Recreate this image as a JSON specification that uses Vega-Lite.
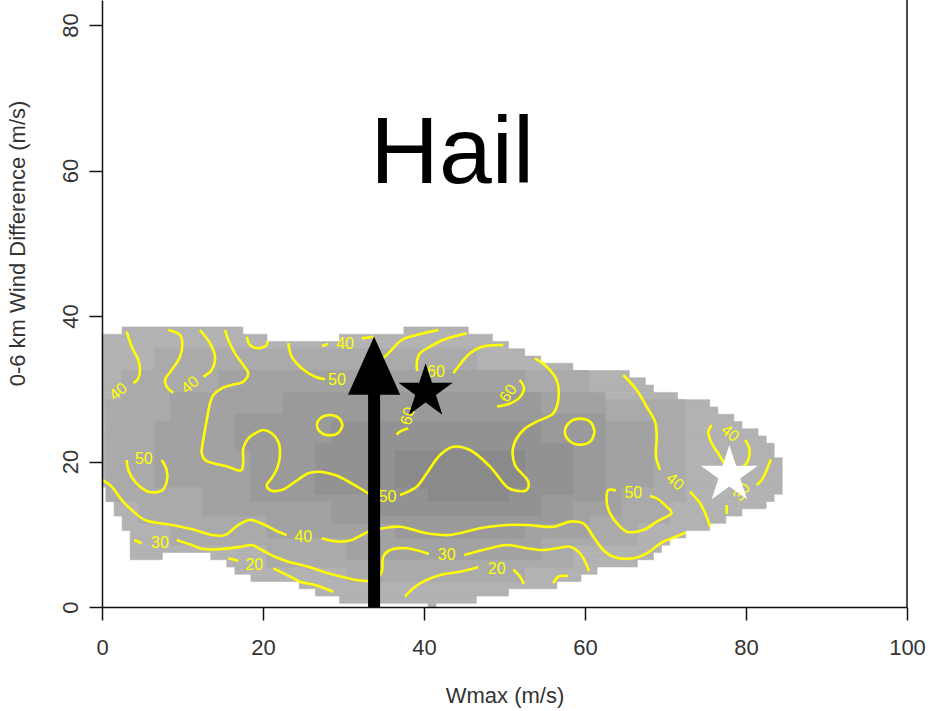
{
  "$schema": "https://vega.github.io/schema/vega-lite/v6.json",
  "width": 805,
  "height": 607,
  "autosize": {"type": "none"},
  "padding": {"left": 102, "top": 0, "right": 23, "bottom": 104},
  "background": "white",
  "config": {"view": {"stroke": null}, "font": "Liberation Sans"},
  "datasets": {
    "cells": [
      {"g":1,"x":2.5,"x2":17.5,"y":37.5,"y2":38.5},
      {"g":1,"x":37.5,"x2":45.5,"y":37.5,"y2":38.5},
      {"g":1,"x":0,"x2":20.5,"y":36.5,"y2":37.5},
      {"g":1,"x":29.5,"x2":48.5,"y":36.5,"y2":37.5},
      {"g":1,"x":0,"x2":50.5,"y":35.5,"y2":36.5},
      {"g":1,"x":0,"x2":52.5,"y":34.5,"y2":35.5},
      {"g":1,"x":0,"x2":54.5,"y":33.5,"y2":34.5},
      {"g":1,"x":0,"x2":58.5,"y":32.5,"y2":33.5},
      {"g":1,"x":0,"x2":65.5,"y":31.5,"y2":32.5},
      {"g":1,"x":0,"x2":67.5,"y":30.5,"y2":31.5},
      {"g":1,"x":0,"x2":68.5,"y":29.5,"y2":30.5},
      {"g":1,"x":0,"x2":71.5,"y":28.5,"y2":29.5},
      {"g":1,"x":0,"x2":75.5,"y":27.5,"y2":28.5},
      {"g":1,"x":0,"x2":76.5,"y":26.5,"y2":27.5},
      {"g":1,"x":0,"x2":78.5,"y":25.5,"y2":26.5},
      {"g":1,"x":0,"x2":79.5,"y":24.5,"y2":25.5},
      {"g":1,"x":0,"x2":81.5,"y":23.5,"y2":24.5},
      {"g":1,"x":0,"x2":82.5,"y":22.5,"y2":23.5},
      {"g":1,"x":0,"x2":83.5,"y":20.5,"y2":22.5},
      {"g":1,"x":0,"x2":84.5,"y":16.5,"y2":20.5},
      {"g":1,"x":0.5,"x2":84.5,"y":15.5,"y2":16.5},
      {"g":1,"x":0.5,"x2":83.5,"y":14.5,"y2":15.5},
      {"g":1,"x":1.5,"x2":82.5,"y":13.5,"y2":14.5},
      {"g":1,"x":1.5,"x2":79.5,"y":12.5,"y2":13.5},
      {"g":1,"x":2.5,"x2":77.5,"y":11.5,"y2":12.5},
      {"g":1,"x":2.5,"x2":75.5,"y":10.5,"y2":11.5},
      {"g":1,"x":3.5,"x2":72.5,"y":9.5,"y2":10.5},
      {"g":1,"x":3.5,"x2":70.5,"y":8.5,"y2":9.5},
      {"g":1,"x":3.5,"x2":69.5,"y":7.5,"y2":8.5},
      {"g":1,"x":3.5,"x2":7.5,"y":6.5,"y2":7.5},
      {"g":1,"x":13.5,"x2":68.5,"y":6.5,"y2":7.5},
      {"g":1,"x":15.5,"x2":66.5,"y":5.5,"y2":6.5},
      {"g":1,"x":16.5,"x2":61.5,"y":4.5,"y2":5.5},
      {"g":1,"x":18.5,"x2":59.5,"y":3.5,"y2":4.5},
      {"g":1,"x":24.5,"x2":56.5,"y":2.5,"y2":3.5},
      {"g":1,"x":26.5,"x2":50.5,"y":1.5,"y2":2.5},
      {"g":1,"x":29.5,"x2":46.5,"y":0.5,"y2":1.5},
      {"g":1,"x":40.5,"x2":41.5,"y":0,"y2":0.5},

      {"g":2,"x":6.5,"x2":46.5,"y":32.5,"y2":35.5},
      {"g":2,"x":2.5,"x2":60.5,"y":28.5,"y2":32.5},
      {"g":2,"x":0.5,"x2":72.5,"y":14.5,"y2":28.5},
      {"g":2,"x":4.5,"x2":70.5,"y":11.5,"y2":14.5},
      {"g":2,"x":8.5,"x2":66.5,"y":8.5,"y2":11.5},
      {"g":2,"x":20.5,"x2":58.5,"y":5.5,"y2":8.5},
      {"g":2,"x":30.5,"x2":52.5,"y":3.5,"y2":5.5},

      {"g":3,"x":14.5,"x2":52.5,"y":29.5,"y2":32.5},
      {"g":3,"x":8.5,"x2":62.5,"y":25.5,"y2":29.5},
      {"g":3,"x":6.5,"x2":68.5,"y":16.5,"y2":25.5},
      {"g":3,"x":12.5,"x2":64.5,"y":12.5,"y2":16.5},
      {"g":3,"x":20.5,"x2":60.5,"y":9.5,"y2":12.5},
      {"g":3,"x":30.5,"x2":54.5,"y":6.5,"y2":9.5},

      {"g":4,"x":22.5,"x2":54.5,"y":26.5,"y2":29.5},
      {"g":4,"x":16.5,"x2":62.5,"y":21.5,"y2":26.5},
      {"g":4,"x":18.5,"x2":62.5,"y":14.5,"y2":21.5},
      {"g":4,"x":28.5,"x2":58.5,"y":11.5,"y2":14.5},
      {"g":4,"x":36.5,"x2":52.5,"y":9.5,"y2":11.5},

      {"g":5,"x":28.5,"x2":54.5,"y":22.5,"y2":25.5},
      {"g":5,"x":26.5,"x2":58.5,"y":15.5,"y2":22.5},
      {"g":5,"x":34.5,"x2":54.5,"y":12.5,"y2":15.5},

      {"g":6,"x":36.5,"x2":52.5,"y":16.5,"y2":21.5},
      {"g":6,"x":40.5,"x2":50.5,"y":14.5,"y2":16.5}
    ],
    "contours": [
      {"s":"A","o":1,"x":3.07,"y":37.84},{"s":"A","o":2,"x":3.69,"y":35.78},{"s":"A","o":3,"x":4.51,"y":33.95},{"s":"A","o":4,"x":4.72,"y":32.58},{"s":"A","o":5,"x":4.51,"y":31.44},{"s":"A","o":6,"x":3.89,"y":30.75},

      {"s":"B1","o":1,"x":8.24,"y":38.08},{"s":"B1","o":2,"x":9.69,"y":37.39},{"s":"B1","o":3,"x":9.98,"y":36.25},{"s":"B1","o":4,"x":9.69,"y":34.41},{"s":"B1","o":5,"x":8.66,"y":32.58},{"s":"B1","o":6,"x":7.83,"y":31.2},{"s":"B1","o":7,"x":8.04,"y":30.28},{"s":"B1","o":8,"x":8.86,"y":29.46},
      {"s":"B2","o":1,"x":12.58,"y":31.66},{"s":"B2","o":2,"x":13.63,"y":32.58},{"s":"B2","o":3,"x":14.04,"y":34.41},{"s":"B2","o":4,"x":13.42,"y":36.25},{"s":"B2","o":5,"x":12.17,"y":38.08},

      {"s":"T","o":1,"x":17.98,"y":37.16},{"s":"T","o":2,"x":18.39,"y":36.01},{"s":"T","o":3,"x":19.42,"y":35.56},{"s":"T","o":4,"x":20.46,"y":36.01},{"s":"T","o":5,"x":20.53,"y":36.56},

      {"s":"C1","o":1,"x":15.28,"y":38.08},{"s":"C1","o":2,"x":15.69,"y":36.7},{"s":"C1","o":3,"x":16.52,"y":34.87},{"s":"C1","o":4,"x":17.55,"y":33.26},{"s":"C1","o":5,"x":18.17,"y":32.12},{"s":"C1","o":6,"x":17.55,"y":30.97},{"s":"C1","o":7,"x":16.11,"y":30.52},{"s":"C1","o":8,"x":14.87,"y":30.06},{"s":"C1","o":9,"x":13.83,"y":29.14},{"s":"C1","o":10,"x":13.42,"y":28.0},{"s":"C1","o":11,"x":13.01,"y":25.7},{"s":"C1","o":12,"x":12.58,"y":22.96},{"s":"C1","o":13,"x":12.39,"y":21.13},{"s":"C1","o":14,"x":12.8,"y":20.21},{"s":"C1","o":15,"x":13.83,"y":19.75},{"s":"C1","o":16,"x":15.69,"y":19.29},{"s":"C1","o":17,"x":16.73,"y":18.83},{"s":"C1","o":18,"x":17.35,"y":18.83},{"s":"C1","o":19,"x":17.55,"y":20.21},{"s":"C1","o":20,"x":17.55,"y":21.81},{"s":"C1","o":21,"x":18.17,"y":23.19},{"s":"C1","o":22,"x":19.01,"y":23.88},{"s":"C1","o":23,"x":20.04,"y":24.33},{"s":"C1","o":24,"x":21.08,"y":23.88},{"s":"C1","o":25,"x":21.9,"y":22.72},{"s":"C1","o":26,"x":22.11,"y":21.13},{"s":"C1","o":27,"x":21.83,"y":19.29},{"s":"C1","o":28,"x":21.08,"y":17.69},{"s":"C1","o":29,"x":20.46,"y":16.77},{"s":"C1","o":30,"x":20.87,"y":16.08},{"s":"C1","o":31,"x":22.32,"y":16.08},{"s":"C1","o":32,"x":23.98,"y":17.22},{"s":"C1","o":33,"x":25.63,"y":18.38},{"s":"C1","o":34,"x":26.87,"y":18.6},{"s":"C1","o":35,"x":28.94,"y":18.14},{"s":"C1","o":36,"x":31.02,"y":17.0},{"s":"C1","o":37,"x":33.08,"y":15.63},{"s":"C1","o":38,"x":33.6,"y":15.3},
      {"s":"C2","o":1,"x":37.02,"y":15.4},{"s":"C2","o":2,"x":39.09,"y":16.54},{"s":"C2","o":3,"x":40.34,"y":18.38},{"s":"C2","o":4,"x":41.99,"y":20.89},{"s":"C2","o":5,"x":43.64,"y":22.03},{"s":"C2","o":6,"x":45.71,"y":21.58},{"s":"C2","o":7,"x":48.2,"y":19.29},{"s":"C2","o":8,"x":50.27,"y":16.54},{"s":"C2","o":9,"x":51.09,"y":16.08},{"s":"C2","o":10,"x":52.76,"y":16.08},{"s":"C2","o":11,"x":52.96,"y":17.22},{"s":"C2","o":12,"x":51.3,"y":19.52},{"s":"C2","o":13,"x":51.09,"y":22.03},{"s":"C2","o":14,"x":52.34,"y":24.33},{"s":"C2","o":15,"x":54.0,"y":25.47},{"s":"C2","o":16,"x":56.06,"y":26.63},{"s":"C2","o":17,"x":56.68,"y":28.45},{"s":"C2","o":18,"x":56.48,"y":31.2},{"s":"C2","o":19,"x":55.24,"y":33.03},{"s":"C2","o":20,"x":53.79,"y":34.19},

      {"s":"G","o":1,"x":3.07,"y":20.21},{"s":"G","o":2,"x":3.27,"y":18.83},{"s":"G","o":3,"x":4.1,"y":17.22},{"s":"G","o":4,"x":5.75,"y":15.85},{"s":"G","o":5,"x":7.42,"y":15.99},{"s":"G","o":6,"x":8.04,"y":17.22},{"s":"G","o":7,"x":8.04,"y":18.83},{"s":"G","o":8,"x":7.42,"y":20.21},

      {"s":"H","o":1,"x":29.9,"y":25.0},{"s":"H","o":2,"x":29.4,"y":26.0},{"s":"H","o":3,"x":28.3,"y":26.4},{"s":"H","o":4,"x":27.2,"y":26.0},{"s":"H","o":5,"x":26.7,"y":25.0},{"s":"H","o":6,"x":27.2,"y":24.0},{"s":"H","o":7,"x":28.3,"y":23.6},{"s":"H","o":8,"x":29.4,"y":24.0},{"s":"H","o":9,"x":29.9,"y":25.0},

      {"s":"I","o":1,"x":61.2,"y":24.1},{"s":"I","o":2,"x":60.7,"y":25.4},{"s":"I","o":3,"x":59.4,"y":25.9},{"s":"I","o":4,"x":58.1,"y":25.4},{"s":"I","o":5,"x":57.5,"y":24.1},{"s":"I","o":6,"x":58.1,"y":22.8},{"s":"I","o":7,"x":59.4,"y":22.3},{"s":"I","o":8,"x":60.7,"y":22.8},{"s":"I","o":9,"x":61.2,"y":24.1},

      {"s":"D1","o":1,"x":0.04,"y":17.46},{"s":"D1","o":2,"x":1.2,"y":16.54},{"s":"D1","o":3,"x":2.45,"y":14.71},{"s":"D1","o":4,"x":3.69,"y":13.33},{"s":"D1","o":5,"x":5.34,"y":11.96},{"s":"D1","o":6,"x":8.66,"y":11.27},{"s":"D1","o":7,"x":11.55,"y":10.58},{"s":"D1","o":8,"x":13.63,"y":9.9},{"s":"D1","o":9,"x":15.28,"y":9.9},{"s":"D1","o":10,"x":16.93,"y":11.27},{"s":"D1","o":11,"x":18.39,"y":11.96},{"s":"D1","o":12,"x":20.25,"y":11.27},{"s":"D1","o":13,"x":21.9,"y":10.35},{"s":"D1","o":14,"x":22.94,"y":9.9},
      {"s":"D2","o":1,"x":27.29,"y":9.44},{"s":"D2","o":2,"x":29.35,"y":8.98},{"s":"D2","o":3,"x":31.02,"y":9.21},{"s":"D2","o":4,"x":32.26,"y":9.9},{"s":"D2","o":5,"x":33.08,"y":10.35},{"s":"D2","o":6,"x":34.94,"y":10.82},{"s":"D2","o":7,"x":37.02,"y":11.04},{"s":"D2","o":8,"x":40.34,"y":10.13},{"s":"D2","o":9,"x":43.23,"y":9.9},{"s":"D2","o":10,"x":46.96,"y":10.82},{"s":"D2","o":11,"x":50.27,"y":11.27},{"s":"D2","o":12,"x":52.76,"y":11.27},{"s":"D2","o":13,"x":56.06,"y":11.04},{"s":"D2","o":14,"x":58.14,"y":11.73},{"s":"D2","o":15,"x":59.79,"y":11.5},{"s":"D2","o":16,"x":61.03,"y":9.66},{"s":"D2","o":17,"x":62.27,"y":7.84},{"s":"D2","o":18,"x":63.52,"y":6.91},{"s":"D2","o":19,"x":66.0,"y":6.69},{"s":"D2","o":20,"x":67.66,"y":7.38},{"s":"D2","o":21,"x":69.73,"y":8.98},{"s":"D2","o":22,"x":71.8,"y":9.9},{"s":"D2","o":23,"x":72.5,"y":10.25},

      {"s":"E1","o":1,"x":4.01,"y":9.21},{"s":"E1","o":2,"x":4.93,"y":8.76},
      {"s":"E2","o":1,"x":9.28,"y":9.21},{"s":"E2","o":2,"x":11.14,"y":8.52},{"s":"E2","o":3,"x":12.58,"y":7.97},{"s":"E2","o":4,"x":14.87,"y":7.97},{"s":"E2","o":5,"x":17.35,"y":8.29},{"s":"E2","o":6,"x":18.6,"y":8.52},{"s":"E2","o":7,"x":19.84,"y":7.84},{"s":"E2","o":8,"x":21.49,"y":6.91},{"s":"E2","o":9,"x":23.14,"y":6.23},{"s":"E2","o":10,"x":25.63,"y":5.54},{"s":"E2","o":11,"x":28.11,"y":4.63},{"s":"E2","o":12,"x":30.6,"y":3.95},{"s":"E2","o":13,"x":32.26,"y":3.62},{"s":"E2","o":14,"x":33.91,"y":3.71},{"s":"E2","o":15,"x":34.75,"y":4.85},{"s":"E2","o":16,"x":34.94,"y":6.91},{"s":"E2","o":17,"x":35.78,"y":7.84},{"s":"E2","o":18,"x":37.85,"y":8.07},{"s":"E2","o":19,"x":40.6,"y":7.3},
      {"s":"E3","o":1,"x":45.0,"y":7.15},{"s":"E3","o":2,"x":48.2,"y":8.07},{"s":"E3","o":3,"x":50.27,"y":8.52},{"s":"E3","o":4,"x":52.76,"y":8.07},{"s":"E3","o":5,"x":54.82,"y":7.84},{"s":"E3","o":6,"x":56.48,"y":8.07},{"s":"E3","o":7,"x":58.14,"y":8.29},{"s":"E3","o":8,"x":59.38,"y":7.38},{"s":"E3","o":9,"x":60.21,"y":5.77},{"s":"E3","o":10,"x":60.5,"y":4.95},

      {"s":"F1","o":1,"x":15.69,"y":6.69},{"s":"F1","o":2,"x":16.93,"y":6.36},
      {"s":"F2","o":1,"x":21.28,"y":5.32},{"s":"F2","o":2,"x":23.57,"y":4.08},{"s":"F2","o":3,"x":24.6,"y":3.48},{"s":"F2","o":4,"x":26.46,"y":3.02},{"s":"F2","o":5,"x":28.73,"y":2.1},
      {"s":"F3","o":1,"x":37.64,"y":1.42},{"s":"F3","o":2,"x":38.67,"y":2.57},{"s":"F3","o":3,"x":39.91,"y":3.48},{"s":"F3","o":4,"x":41.99,"y":4.4},{"s":"F3","o":5,"x":44.47,"y":4.85},{"s":"F3","o":6,"x":46.75,"y":5.46},
      {"s":"F4","o":1,"x":51.09,"y":5.18},{"s":"F4","o":2,"x":51.93,"y":4.16},{"s":"F4","o":3,"x":52.42,"y":3.16},
      {"s":"F5","o":1,"x":56.06,"y":3.26},{"s":"F5","o":2,"x":56.68,"y":4.16},{"s":"F5","o":3,"x":57.93,"y":4.26},

      {"s":"K1","o":1,"x":27.33,"y":35.88},{"s":"K1","o":2,"x":28.07,"y":36.15},
      {"s":"K2","o":1,"x":32.26,"y":36.93},{"s":"K2","o":2,"x":33.7,"y":37.15},
      {"s":"J1","o":1,"x":34.9,"y":34.2},{"s":"J1","o":2,"x":35.57,"y":34.87},{"s":"J1","o":3,"x":37.23,"y":36.7},{"s":"J1","o":4,"x":39.09,"y":37.39},{"s":"J1","o":5,"x":41.78,"y":38.08},

      {"s":"L1","o":1,"x":23.14,"y":36.29},{"s":"L1","o":2,"x":23.57,"y":34.41},{"s":"L1","o":3,"x":24.81,"y":32.81},{"s":"L1","o":4,"x":26.46,"y":31.66},{"s":"L1","o":5,"x":27.7,"y":31.3},
      {"s":"L2","o":1,"x":36.6,"y":23.7},{"s":"L2","o":2,"x":37.02,"y":24.1},{"s":"L2","o":3,"x":38.05,"y":24.56},

      {"s":"M1","o":1,"x":45.3,"y":37.62},{"s":"M1","o":2,"x":42.36,"y":36.7},{"s":"M1","o":3,"x":40.75,"y":35.78},{"s":"M1","o":4,"x":39.5,"y":34.87},{"s":"M1","o":5,"x":39.09,"y":33.5},{"s":"M1","o":6,"x":39.17,"y":32.44},
      {"s":"M2","o":1,"x":43.64,"y":32.12},{"s":"M2","o":2,"x":45.71,"y":34.87},{"s":"M2","o":3,"x":47.17,"y":35.78},{"s":"M2","o":4,"x":49.85,"y":36.01},

      {"s":"N","o":1,"x":51.89,"y":31.2},{"s":"N","o":2,"x":52.42,"y":30.1},{"s":"N","o":3,"x":51.93,"y":28.87},{"s":"N","o":4,"x":50.68,"y":27.97},{"s":"N","o":5,"x":49.07,"y":27.56},

      {"s":"O1","o":1,"x":64.76,"y":31.89},{"s":"O1","o":2,"x":66.42,"y":29.83},{"s":"O1","o":3,"x":67.66,"y":27.53},{"s":"O1","o":4,"x":68.7,"y":25.47},{"s":"O1","o":5,"x":68.91,"y":23.41},{"s":"O1","o":6,"x":68.82,"y":20.66},{"s":"O1","o":7,"x":69.32,"y":18.83},
      {"s":"O2","o":1,"x":73.04,"y":15.85},{"s":"O2","o":2,"x":74.29,"y":14.25},{"s":"O2","o":3,"x":75.12,"y":12.41},{"s":"O2","o":4,"x":75.53,"y":11.04},

      {"s":"P","o":1,"x":63.85,"y":16.01},{"s":"P","o":2,"x":62.89,"y":16.08},{"s":"P","o":3,"x":62.7,"y":14.47},{"s":"P","o":4,"x":63.11,"y":12.88},{"s":"P","o":5,"x":64.35,"y":11.04},{"s":"P","o":6,"x":65.18,"y":10.35},{"s":"P","o":7,"x":67.24,"y":10.58},{"s":"P","o":8,"x":68.91,"y":11.73},{"s":"P","o":9,"x":70.77,"y":12.96},{"s":"P","o":10,"x":70.15,"y":13.79},{"s":"P","o":11,"x":68.91,"y":14.94},{"s":"P","o":12,"x":68.07,"y":15.26},

      {"s":"Q","o":1,"x":75.74,"y":25.02},{"s":"Q","o":2,"x":75.32,"y":24.1},{"s":"Q","o":3,"x":75.74,"y":22.5},{"s":"Q","o":4,"x":76.56,"y":21.13},{"s":"Q","o":5,"x":77.52,"y":19.52},{"s":"Q","o":6,"x":78.76,"y":18.83},{"s":"Q","o":7,"x":79.66,"y":19.29},{"s":"Q","o":8,"x":80.29,"y":20.21},{"s":"Q","o":9,"x":80.41,"y":21.81},{"s":"Q","o":10,"x":79.88,"y":22.96},

      {"s":"R1","o":1,"x":77.6,"y":12.78},{"s":"R1","o":2,"x":77.6,"y":14.02},
      {"s":"R2","o":1,"x":81.33,"y":16.77},{"s":"R2","o":2,"x":81.95,"y":17.45},{"s":"R2","o":3,"x":82.57,"y":18.83},{"s":"R2","o":4,"x":83.07,"y":20.3}
    ],
    "labelsFlat": [
      {"t":"40","x":25.01,"y":9.66},
      {"t":"30","x":7.2,"y":8.84},
      {"t":"30","x":42.82,"y":7.15},
      {"t":"20","x":18.92,"y":5.77},
      {"t":"20","x":49.03,"y":5.18},
      {"t":"50","x":35.47,"y":15.12},
      {"t":"50","x":5.2,"y":20.3},
      {"t":"50","x":29.19,"y":31.2},
      {"t":"40","x":30.19,"y":36.15},
      {"t":"60","x":41.49,"y":32.3},
      {"t":"50","x":66.0,"y":15.63}
    ],
    "labelsUp": [
      {"t":"40","x":2.02,"y":29.59},
      {"t":"40","x":10.93,"y":30.52}
    ],
    "labelsDown": [
      {"t":"40","x":71.18,"y":17.22},
      {"t":"40","x":78.01,"y":23.88}
    ],
    "labelsSteep": [
      {"t":"60","x":50.47,"y":29.37},
      {"t":"30","x":79.47,"y":15.81}
    ],
    "labelsVertical": [
      {"t":"60","x":38.01,"y":26.25}
    ],
    "shaft": [{"x":33.8,"y":0,"y2":29.5}],
    "head": [{"x":33.8,"y":33.15}],
    "blackStar": [{"x":40.2,"y":29.6}],
    "whiteStar": [{"x":77.93,"y":18.14}],
    "frame": [{"x":100,"y":0,"y2":83.44}],
    "title": [{"t":"Hail","x":43.5,"y":58.24}]
  },
  "layer": [
    {
      "data": {"name": "cells"},
      "mark": {"type": "rect", "strokeWidth": 0.6},
      "encoding": {
        "x": {
          "field": "x", "type": "quantitative",
          "scale": {"domain": [0, 100], "nice": false, "zero": false},
          "axis": {
            "values": [0, 20, 40, 60, 80, 100], "grid": false, "zindex": 1,
            "domainColor": "#111", "domainWidth": 1.5, "tickColor": "#111", "tickWidth": 1.5, "tickSize": 13,
            "labelFont": "Liberation Sans Narrow, Liberation Sans", "labelFontSize": 22, "labelColor": "#333",
            "labelBaseline": "middle", "labelPadding": 27, "labelFlush": false,
            "title": "Wmax (m/s)", "titleFont": "Liberation Sans Narrow, Liberation Sans", "titleFontSize": 22,
            "titleFontWeight": "normal", "titleColor": "#333", "titleBaseline": "middle", "titleX": 402.5, "titleY": 88
          }
        },
        "x2": {"field": "x2"},
        "y": {
          "field": "y", "type": "quantitative",
          "scale": {"domain": [0, 83.44], "nice": false, "zero": false},
          "axis": {
            "values": [0, 20, 40, 60, 80], "grid": false, "zindex": 1,
            "domainColor": "#111", "domainWidth": 1.5, "tickColor": "#111", "tickWidth": 1.5, "tickSize": 13,
            "labelFont": "Liberation Sans Narrow, Liberation Sans", "labelFontSize": 22, "labelColor": "#333",
            "labelAngle": -90, "labelAlign": "center", "labelBaseline": "middle", "labelPadding": 19, "labelFlush": false,
            "title": "0-6 km Wind Difference (m/s)", "titleFont": "Liberation Sans Narrow, Liberation Sans", "titleFontSize": 22,
            "titleFontWeight": "normal", "titleColor": "#333", "titleAngle": -90, "titleAlign": "center",
            "titleBaseline": "middle", "titleX": -85, "titleY": 243
          }
        },
        "y2": {"field": "y2"},
        "color": {
          "field": "g", "type": "ordinal", "legend": null,
          "scale": {"domain": [1, 2, 3, 4, 5, 6], "range": ["#b2b2b2", "#aaaaaa", "#a2a2a2", "#9a9a9a", "#929292", "#8a8a8a"]}
        },
        "stroke": {
          "field": "g", "type": "ordinal", "legend": null,
          "scale": {"domain": [1, 2, 3, 4, 5, 6], "range": ["#b2b2b2", "#aaaaaa", "#a2a2a2", "#9a9a9a", "#929292", "#8a8a8a"]}
        }
      }
    },
    {
      "data": {"name": "contours"},
      "mark": {"type": "line", "color": "#ffff00", "strokeWidth": 2.6, "interpolate": "catmull-rom"},
      "encoding": {
        "x": {"field": "x", "type": "quantitative"},
        "y": {"field": "y", "type": "quantitative"},
        "detail": {"field": "s"},
        "order": {"field": "o", "type": "quantitative"}
      }
    },
    {
      "data": {"name": "labelsFlat"},
      "mark": {"type": "text", "color": "#ffff00", "fontSize": 16, "align": "center", "baseline": "middle"},
      "encoding": {
        "x": {"field": "x", "type": "quantitative"},
        "y": {"field": "y", "type": "quantitative"},
        "text": {"field": "t"}
      }
    },
    {
      "data": {"name": "labelsUp"},
      "mark": {"type": "text", "color": "#ffff00", "fontSize": 16, "align": "center", "baseline": "middle", "angle": -40},
      "encoding": {
        "x": {"field": "x", "type": "quantitative"},
        "y": {"field": "y", "type": "quantitative"},
        "text": {"field": "t"}
      }
    },
    {
      "data": {"name": "labelsDown"},
      "mark": {"type": "text", "color": "#ffff00", "fontSize": 16, "align": "center", "baseline": "middle", "angle": 40},
      "encoding": {
        "x": {"field": "x", "type": "quantitative"},
        "y": {"field": "y", "type": "quantitative"},
        "text": {"field": "t"}
      }
    },
    {
      "data": {"name": "labelsSteep"},
      "mark": {"type": "text", "color": "#ffff00", "fontSize": 16, "align": "center", "baseline": "middle", "angle": -55},
      "encoding": {
        "x": {"field": "x", "type": "quantitative"},
        "y": {"field": "y", "type": "quantitative"},
        "text": {"field": "t"}
      }
    },
    {
      "data": {"name": "labelsVertical"},
      "mark": {"type": "text", "color": "#ffff00", "fontSize": 16, "align": "center", "baseline": "middle", "angle": -75},
      "encoding": {
        "x": {"field": "x", "type": "quantitative"},
        "y": {"field": "y", "type": "quantitative"},
        "text": {"field": "t"}
      }
    },
    {
      "data": {"name": "shaft"},
      "mark": {"type": "rule", "color": "black", "strokeWidth": 12, "strokeCap": "butt"},
      "encoding": {
        "x": {"field": "x", "type": "quantitative"},
        "y": {"field": "y", "type": "quantitative"},
        "y2": {"field": "y2"}
      }
    },
    {
      "data": {"name": "head"},
      "mark": {"type": "point", "filled": true, "color": "black", "opacity": 1, "size": 3364, "shape": "M0,-1L0.9,1L-0.9,1Z"},
      "encoding": {
        "x": {"field": "x", "type": "quantitative"},
        "y": {"field": "y", "type": "quantitative"}
      }
    },
    {
      "data": {"name": "blackStar"},
      "mark": {"type": "point", "filled": true, "color": "black", "opacity": 1, "size": 3249,
        "shape": "M0,-1L0.225,-0.309L0.951,-0.309L0.363,0.118L0.588,0.809L0,0.382L-0.588,0.809L-0.363,0.118L-0.951,-0.309L-0.225,-0.309Z"},
      "encoding": {
        "x": {"field": "x", "type": "quantitative"},
        "y": {"field": "y", "type": "quantitative"}
      }
    },
    {
      "data": {"name": "whiteStar"},
      "mark": {"type": "point", "filled": true, "color": "white", "opacity": 1, "size": 3600,
        "shape": "M0,-1L0.225,-0.309L0.951,-0.309L0.363,0.118L0.588,0.809L0,0.382L-0.588,0.809L-0.363,0.118L-0.951,-0.309L-0.225,-0.309Z"},
      "encoding": {
        "x": {"field": "x", "type": "quantitative"},
        "y": {"field": "y", "type": "quantitative"}
      }
    },
    {
      "data": {"name": "frame"},
      "mark": {"type": "rule", "color": "#111", "strokeWidth": 1.5},
      "encoding": {
        "x": {"field": "x", "type": "quantitative"},
        "y": {"field": "y", "type": "quantitative"},
        "y2": {"field": "y2"}
      }
    },
    {
      "data": {"name": "title"},
      "mark": {"type": "text", "font": "Liberation Sans", "fontSize": 95, "color": "black", "align": "center", "baseline": "alphabetic"},
      "encoding": {
        "x": {"field": "x", "type": "quantitative"},
        "y": {"field": "y", "type": "quantitative"},
        "text": {"field": "t"}
      }
    }
  ]
}
